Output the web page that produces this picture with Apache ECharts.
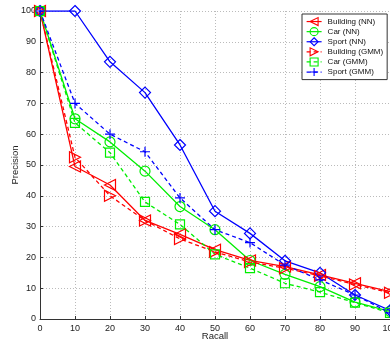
<!DOCTYPE html>
<html>
<head>
<meta charset="utf-8">
<script src="https://cdn.jsdelivr.net/npm/echarts@6/dist/echarts.min.js"></script>
<style>
  html, body { margin: 0; padding: 0; background: #fff; }
  #chart { width: 390px; height: 344px; }
</style>
</head>
<body>
<div id="chart"></div>
<script>
const recall = [0, 10, 20, 30, 40, 50, 60, 70, 80, 90, 100];
const buildingNN = [100, 49.5, 43.5, 32, 27.5, 22.5, 19, 17, 14.3, 11.6, 8.9];
const carNN = [100, 65, 57.5, 48, 36.5, 29, 19, 14.5, 10.5, 5.5, 2.5];
const sportNN = [100, 100, 83.5, 73.5, 56.5, 35, 27.8, 18.9, 15, 7.8, 2.8];
const buildingGMM = [100, 52.5, 40, 32, 26, 21.8, 18.5, 16.5, 14, 11.2, 8.5];
const carGMM = [100, 63.7, 54, 38, 30.7, 21, 16.5, 11.6, 8.7, 5.3, 2];
const sportGMM = [100, 70, 60, 54.3, 39.3, 29, 24.8, 17.5, 12.7, 7.8, 2];

const RED = '#ff0000', GREEN = '#00ee00', BLUE = '#0000ff';
const NOFILL = 'rgba(255,255,255,0)';

function pts(vals) {
  return vals.map((v, i) => [recall[i], v]);
}

function makeSeries(name, vals, color, symbol, rotate, dashed, size) {
  return {
    name: name,
    type: 'line',
    color: color,
    data: pts(vals),
    symbol: symbol,
    symbolSize: size || 10,
    symbolRotate: rotate || 0,
    showAllSymbol: true,
    lineStyle: { color: color, width: 1.3, type: dashed ? [4, 3] : 'solid' },
    itemStyle: { color: NOFILL, borderColor: color, borderWidth: 1.2 },
    emphasis: { disabled: true },
    animation: false
  };
}

const plusPath = 'path://M5,0 L5,10 M0,5 L10,5';

const chart = echarts.init(document.getElementById('chart'), null, { renderer: 'canvas' });
chart.setOption({
  animation: false,
  grid: { left: 40, right: 0, top: 11, bottom: 25, containLabel: false, outerBoundsMode: 'none' },
  xAxis: {
    type: 'value', min: 0, max: 100, interval: 10,
    name: 'Racall', nameLocation: 'middle', nameGap: 12, nameMoveOverlap: false,
    nameTextStyle: { fontFamily: 'Liberation Sans', fontSize: 9.5, color: '#222' },
    axisLine: { lineStyle: { color: '#333', width: 1 } },
    axisTick: { inside: true, length: 3, lineStyle: { color: '#333' } },
    axisLabel: { fontFamily: 'Liberation Sans', fontSize: 9, color: '#222', margin: 5 },
    splitLine: { show: true, lineStyle: { color: '#bbb', type: [1, 2] } }
  },
  yAxis: {
    type: 'value', min: 0, max: 100, interval: 10,
    name: 'Precision', nameLocation: 'middle', nameGap: 20, nameMoveOverlap: false,
    nameTextStyle: { fontFamily: 'Liberation Sans', fontSize: 9.5, color: '#222' },
    axisLine: { show: true, lineStyle: { color: '#333', width: 1 } },
    axisTick: { show: true, inside: true, length: 3, lineStyle: { color: '#333' } },
    axisLabel: { fontFamily: 'Liberation Sans', fontSize: 9, color: '#222', margin: 4 },
    splitLine: { show: true, lineStyle: { color: '#bbb', type: [1, 2] } }
  },
  legend: {
    orient: 'vertical',
    left: 302, top: 14,
    padding: [3, 4, 3, 4],
    itemGap: 1,
    itemWidth: 15, itemHeight: 10,
    backgroundColor: '#fff',
    borderColor: '#333', borderWidth: 1, borderRadius: 0,
    itemStyle: { color: NOFILL, borderColor: 'inherit', borderWidth: 1.1 },
    lineStyle: { width: 1.2 },
    textStyle: {
      fontFamily: 'Liberation Sans',
      fontSize: 8, color: '#111', padding: [0, 0, 0, 1]
    },
    data: ['Building (NN)', 'Car (NN)', 'Sport (NN)', 'Building (GMM)', 'Car (GMM)', 'Sport (GMM)']
  },
  series: [
    makeSeries('Building (NN)', buildingNN, RED, 'triangle', 90, false, 11),
    makeSeries('Car (NN)', carNN, GREEN, 'circle', 0, false, 10),
    makeSeries('Sport (NN)', sportNN, BLUE, 'diamond', 0, false, 11),
    makeSeries('Building (GMM)', buildingGMM, RED, 'triangle', -90, true, 11),
    makeSeries('Car (GMM)', carGMM, GREEN, 'rect', 0, true, 9),
    makeSeries('Sport (GMM)', sportGMM, BLUE, plusPath, 0, true, 10)
  ]
});
</script>
</body>
</html>
